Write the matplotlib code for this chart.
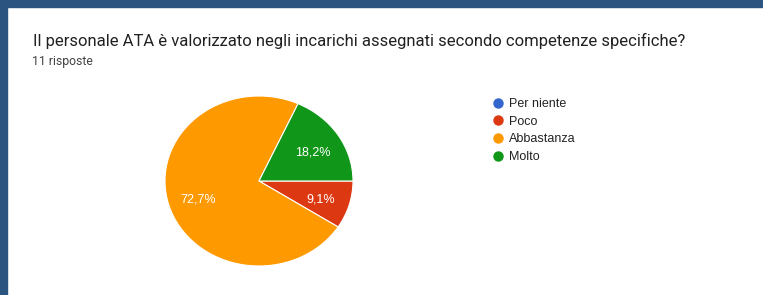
import matplotlib.pyplot as plt
import matplotlib.transforms as mtransforms
from matplotlib.lines import Line2D
from matplotlib.patches import Rectangle

# Survey answers (counts out of 11 responses)
categories = ['Per niente', 'Poco', 'Abbastanza', 'Molto']
counts = [0, 1, 8, 2]
colors = ['#3366cc', '#dc3912', '#ff9900', '#109618']
title = 'Il personale ATA è valorizzato negli incarichi assegnati secondo competenze specifiche?'
subtitle = '11 risposte'

plt.rcParams['font.family'] = ['Roboto', 'DejaVu Sans']

W, H = 763, 295
fig = plt.figure(figsize=(W / 100, H / 100), dpi=100)
fig.patch.set_facecolor('white')

# dark frame on top and left
border = '#2b5480'
fig.patches.append(Rectangle((0, 1 - 7 / H), 1, 7 / H, transform=fig.transFigure,
                             color=border, zorder=0))
fig.patches.append(Rectangle((0, 0), 7 / W, 1, transform=fig.transFigure,
                             color=border, zorder=0))

fig.text(33 / W, 1 - 41 / H, title, fontsize=12, color='#212121', va='center', ha='left')
fig.text(32 / W, 1 - 61 / H, subtitle, fontsize=8.8, color='#424242', va='center', ha='left')


def fmt_pct(p):
    if p < 0.5:
        return ''
    return ('%.1f%%' % p).replace('.', ',')


# pie is slightly stretched horizontally in the reference
cx, cy, rx, ry = 259, 181, 94, 85
ax = fig.add_axes([(cx - rx) / W, (H - cy - ry) / H, 2 * rx / W, 2 * ry / H])
wedges, texts, autotexts = ax.pie(counts, colors=colors, startangle=0, counterclock=False,
                                  autopct=fmt_pct, pctdistance=0.68,
                                  wedgeprops=dict(edgecolor='white', linewidth=0.8),
                                  textprops=dict(color='white', fontsize=9,
                                                 family='Liberation Sans'))
ax.set_aspect('auto')
ax.set_xlim(-1, 1)
ax.set_ylim(-1, 1)
# nudge the percentage labels a little lower
shift = mtransforms.ScaledTranslation(0, -2.5 / 100, fig.dpi_scale_trans)
for t in autotexts:
    t.set_transform(t.get_transform() + shift)

handles = [Line2D([], [], marker='o', linestyle='', markersize=6.5,
                  markerfacecolor=c, markeredgecolor=c) for c in colors]
fig.legend(handles, categories, loc='upper left', bbox_to_anchor=(492 / W, 1 - 98 / H),
           frameon=False, prop=dict(family='Liberation Sans', size=9),
           labelcolor='#222222', handletextpad=0.36, labelspacing=0.45,
           handlelength=1.0, borderpad=0, borderaxespad=0)

fig.savefig('out.png', dpi=100)
